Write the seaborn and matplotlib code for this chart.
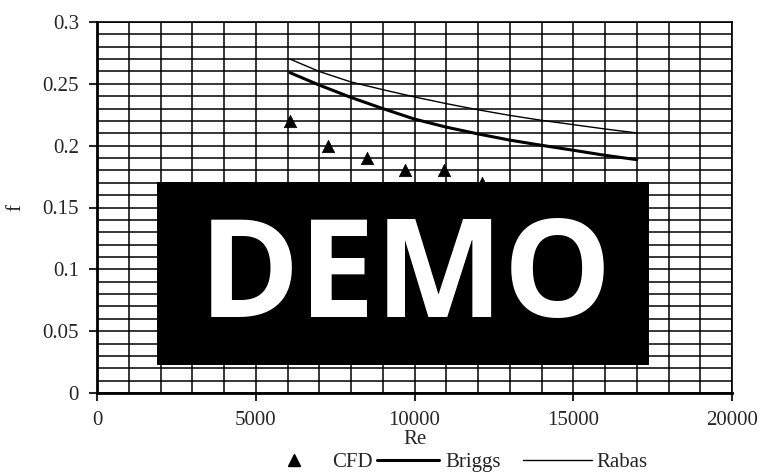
import matplotlib
matplotlib.use("Agg")
import matplotlib.pyplot as plt
import pandas as pd
import seaborn as sns
from matplotlib.patches import Rectangle
from matplotlib.ticker import MultipleLocator
from matplotlib.lines import Line2D

# CFD results (points visible in the picture)
cfd_re = [6080, 7290, 8500, 9700, 10920, 12130]
cfd_f = [0.22, 0.20, 0.19, 0.18, 0.18, 0.17]

# correlations
corr_re = [6080, 7000, 8000, 9000, 10000, 11000, 12000, 13000, 14000, 15000, 16000, 17000]
briggs_f = [0.259, 0.249, 0.239, 0.230, 0.2215, 0.2150, 0.2095, 0.2045, 0.2003, 0.1963, 0.1922, 0.1887]
rabas_f = [0.270, 0.260, 0.2515, 0.2453, 0.2394, 0.2340, 0.2290, 0.2245, 0.2205, 0.2170, 0.2135, 0.2103]

x_ticks = [0, 5000, 10000, 15000, 20000]
x_tick_labels = ['0', '5000', '10000', '15000', '20000']
y_ticks = [0, 0.05, 0.1, 0.15, 0.2, 0.25, 0.3]
y_tick_labels = ['0', '0.05', '0.1', '0.15', '0.2', '0.25', '0.3']

cfd = pd.DataFrame({'Re': cfd_re, 'f': cfd_f})
corr = pd.DataFrame({'Re': corr_re, 'Briggs': briggs_f, 'Rabas': rabas_f})

sns.set_style('white')
plt.rcParams['font.family'] = ['Liberation Serif', 'DejaVu Serif']
plt.rcParams['font.size'] = 15

fig = plt.figure(figsize=(7.63, 4.76), dpi=100)
ax = fig.add_axes([97 / 763, 1 - 393 / 476, (732 - 97) / 763, (393 - 22) / 476])

sns.lineplot(data=corr, x='Re', y='Briggs', ax=ax, color='black', lw=2.2, zorder=4)
sns.lineplot(data=corr, x='Re', y='Rabas', ax=ax, color='black', lw=1.0, zorder=4)
sns.scatterplot(data=cfd, x='Re', y='f', ax=ax, marker='^', color='black', s=80,
                edgecolor='black', linewidth=0.5, zorder=5)

ax.set_xlim(0, 20000)
ax.set_ylim(0, 0.3)
ax.set_xticks(x_ticks)
ax.set_xticklabels(x_tick_labels)
ax.set_yticks(y_ticks)
ax.set_yticklabels(y_tick_labels)
ax.xaxis.set_minor_locator(MultipleLocator(1000))
ax.yaxis.set_minor_locator(MultipleLocator(0.01))
ax.grid(which='both', color='black', lw=1.1)
ax.set_axisbelow(True)
ax.tick_params(which='major', direction='out', length=6, width=1.5, pad=7, labelsize=15,
               bottom=True, left=True)
ax.tick_params(which='minor', length=0)
for side in ['left', 'bottom']:
    ax.spines[side].set_linewidth(2.0)
for side in ['top', 'right']:
    ax.spines[side].set_linewidth(1.2)
for sp in ax.spines.values():
    sp.set_color('black')

ax.set_xlabel('Re', fontsize=15, labelpad=0)
ax.set_ylabel('f', fontsize=15, labelpad=12)

h_cfd = Line2D([], [], marker='^', color='black', linestyle='none', markersize=8)
h_briggs = Line2D([], [], color='black', lw=2.2)
h_rabas = Line2D([], [], color='black', lw=1.0)
fig.legend([h_cfd, h_briggs], ['CFD', 'Briggs'], loc='center', ncol=2,
           bbox_to_anchor=(382 / 763, 1 - 462 / 476), frameon=False, fontsize=15,
           handlelength=3.0, handletextpad=0.3, columnspacing=0.2, borderaxespad=0,
           borderpad=0)
fig.legend([h_rabas], ['Rabas'], loc='center',
           bbox_to_anchor=(585 / 763, 1 - 462 / 476), frameon=False, fontsize=15,
           handlelength=3.3, handletextpad=0.2, borderaxespad=0, borderpad=0)

# watermark box
fig.patches.append(Rectangle((157 / 763, 1 - 365 / 476), (649 - 157) / 763, (365 - 182) / 476,
                             transform=fig.transFigure, facecolor='black', edgecolor='none',
                             zorder=10))
fig.text(406 / 763, 1 - 281 / 476, 'DEMO', ha='center', va='center', color='white',
         fontsize=98, fontweight='bold', family=['Open Sans', 'DejaVu Sans'], zorder=11)

fig.savefig('out.png', dpi=100)
